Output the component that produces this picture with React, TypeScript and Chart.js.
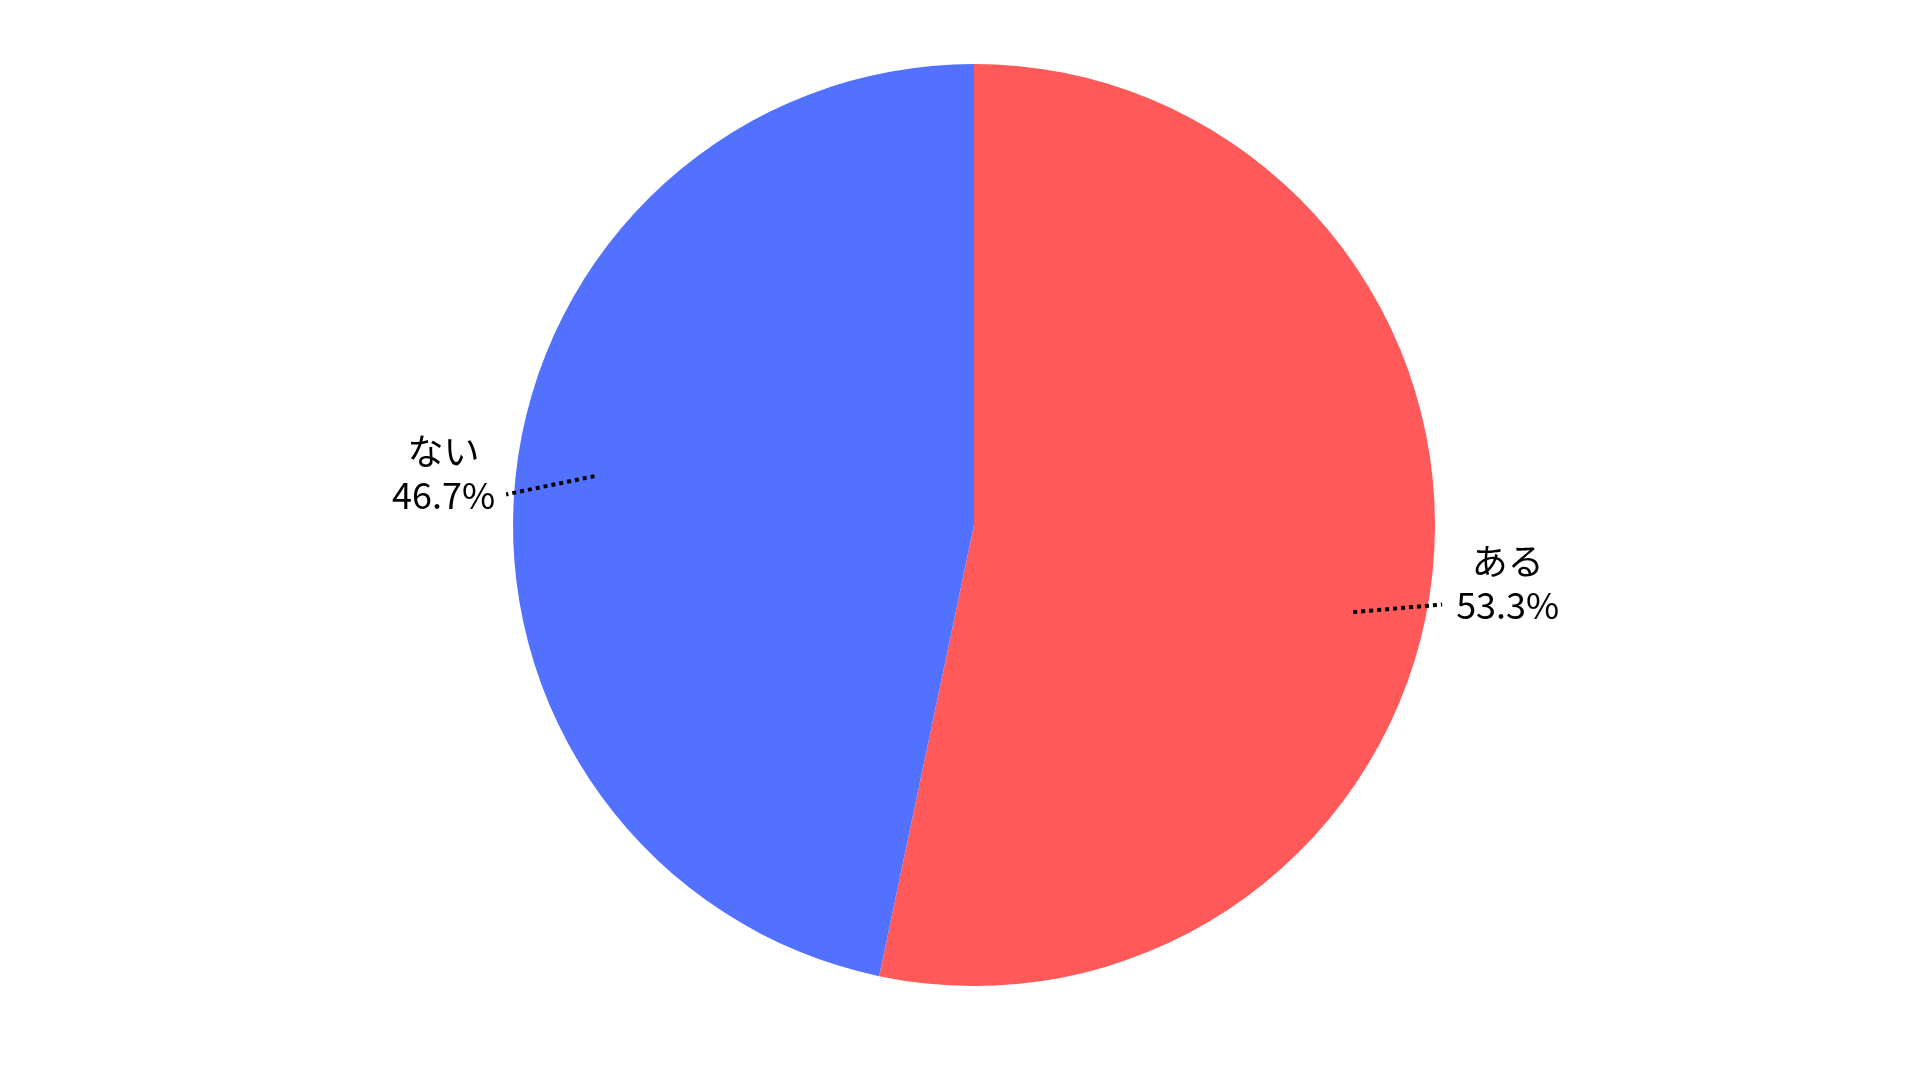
import React, { useEffect, useRef } from "react";
import { Chart, registerables } from "chart.js";

Chart.register(...registerables);

const categories = ["ある", "ない"];
const values = [53.3, 46.7];
const colors = ["#FF5959", "#5271FF"];

const leaderPlugin = {
  id: "leaderLabels",
  afterDatasetsDraw(chart: any) {
    const ctx = chart.ctx;
    const meta = chart.getDatasetMeta(0);
    const total = values.reduce((a, b) => a + b, 0);
    meta.data.forEach((arc: any, i: number) => {
      const { x, y, startAngle, endAngle, outerRadius } = arc.getProps(
        ["x", "y", "startAngle", "endAngle", "outerRadius"],
        true
      );
      const mid = (startAngle + endAngle) / 2;
      const right = Math.cos(mid) >= 0;
      const dIn = ((right ? 7 : 1.4) * Math.PI) / 180;
      const dOut = ((right ? 3.7 : -2.2) * Math.PI) / 180;
      const aIn = mid + dIn;
      const aOut = mid + dOut;
      const rIn = outerRadius * (right ? 0.844 : 0.83);
      const rOut = outerRadius * (right ? 1.03 : 1.017);
      const x1 = x + Math.cos(aIn) * rIn;
      const y1 = y + Math.sin(aIn) * rIn;
      const x2 = x + Math.cos(aOut) * rOut;
      const y2 = y + Math.sin(aOut) * rOut;
      ctx.save();
      ctx.strokeStyle = "#000";
      ctx.lineWidth = 4;
      ctx.setLineDash([4, 4]);
      ctx.beginPath();
      ctx.moveTo(x1, y1);
      ctx.lineTo(x2, y2);
      ctx.stroke();
      ctx.setLineDash([]);
      ctx.font = '36px "Noto Sans CJK JP"';
      ctx.fillStyle = "#000";
      ctx.textBaseline = "middle";
      ctx.textAlign = "center";
      const pct = ((values[i] / total) * 100).toFixed(1) + "%";
      const w = Math.max(ctx.measureText(pct).width, ctx.measureText(categories[i]).width);
      const cx = right ? x2 + 14 + w / 2 : x2 - 11 - w / 2;
      ctx.fillText(categories[i], cx, y2 - 43);
      ctx.fillText(pct, cx, y2 + 1);
      ctx.restore();
    });
  },
};

export default function App() {
  const ref = useRef<HTMLCanvasElement>(null);
  useEffect(() => {
    document.body.style.margin = "0";
    const chart = new Chart(ref.current!, {
      type: "pie",
      data: {
        labels: categories,
        datasets: [
          {
            data: values,
            backgroundColor: colors,
            borderWidth: 0,
          },
        ],
      },
      options: {
        animation: false,
        responsive: false,
        layout: { padding: { top: 64, bottom: 94, left: 28, right: 0 } },
        plugins: {
          legend: { display: false },
          tooltip: { enabled: false },
        },
      },
      plugins: [leaderPlugin],
    });
    return () => chart.destroy();
  }, []);
  return (
    <div style={{ position: "absolute", left: 0, top: 0, width: 1920, height: 1080, background: "#fff" }}>
      <canvas ref={ref} width={1920} height={1080} style={{ width: 1920, height: 1080 }} />
    </div>
  );
}
